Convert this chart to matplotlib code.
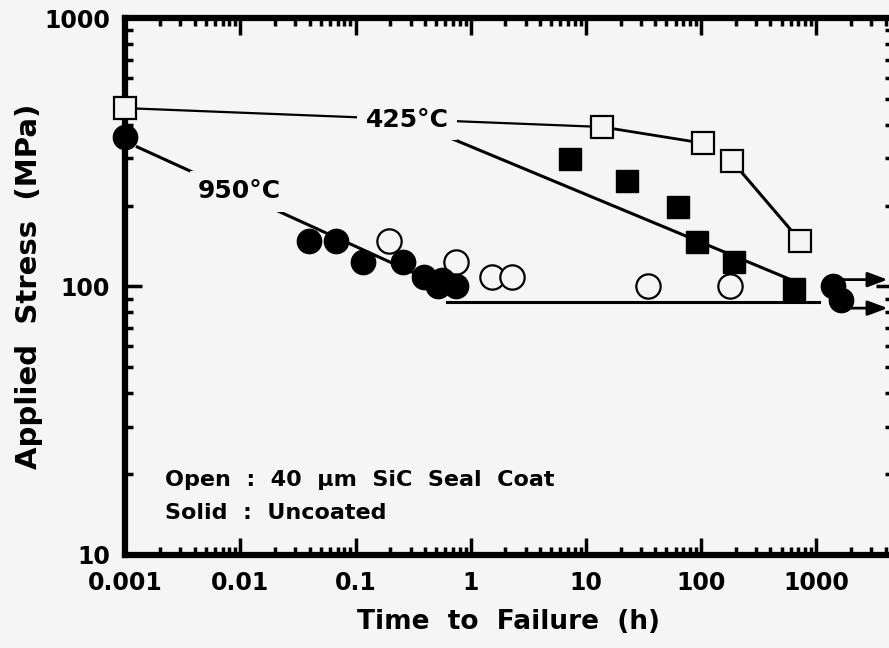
import matplotlib.pyplot as plt
import numpy as np

# 425C, 40 um SiC seal coat (open squares)
coat425_t = [0.001, 13.8, 104, 186, 724]
coat425_s = [462, 393, 342, 293, 148]

# 425C, uncoated (solid squares)
bare425_t = [7.2, 22.8, 63, 92, 194, 645]
bare425_s = [298, 247, 198, 147, 123, 98]

# 950C, uncoated (solid circles)
bare950_t = [0.001, 0.039, 0.068, 0.115, 0.26, 0.39, 0.52, 0.56, 0.74]
bare950_s = [360, 148, 148, 123, 123, 108, 100, 106, 100]

# 950C, coated (open circles)
coat950_t = [0.195, 0.74, 1.52, 2.28, 34.6, 178]
coat950_s = [148, 123, 108, 108, 100, 100]

# run-outs (solid circles with arrows)
runout_t = [1400, 1650]
runout_s = [100, 89]
runout_arrow_s = [106, 83]

# fitted trend lines
fit950_t = [0.00127, 0.55]
fit950_s = [331, 101]
fit425_t = [0.28, 600]
fit425_s = [417, 106]
flat_t = [0.62, 1060]
flat_s = [87.5, 87.5]

xticks = [0.001, 0.01, 0.1, 1, 10, 100, 1000]
xtick_labels = ['0.001', '0.01', '0.1', '1', '10', '100', '1000']
yticks = [10, 100, 1000]
ytick_labels = ['10', '100', '1000']

bg = '#f5f5f5'
plt.rcParams['font.family'] = ['DejaVu Sans']
plt.rcParams['font.weight'] = 'bold'
plt.rcParams['axes.labelweight'] = 'bold'

fig = plt.figure(figsize=(8.89, 6.48), dpi=100, facecolor=bg)
ax = fig.add_axes([0.141, 0.144, 0.863, 0.828], facecolor=bg)
ax.set_xscale('log')
ax.set_yscale('log')
ax.set_xlim(0.001, 4600)
ax.set_ylim(10, 1000)

lw = 2.2
ax.plot(coat425_t[:2], coat425_s[:2], color='k', lw=1.6, zorder=2)
ax.plot(coat425_t[1:3], coat425_s[1:3], color='k', lw=2, zorder=2)
ax.plot(coat425_t[3:], coat425_s[3:], color='k', lw=lw, zorder=2)
ax.plot(fit950_t, fit950_s, color='k', lw=lw, zorder=2)
ax.plot(fit425_t, fit425_s, color='k', lw=lw, zorder=2)
ax.plot(flat_t, flat_s, color='k', lw=lw, zorder=2)

ax.plot(coat425_t, coat425_s, 's', ms=16, mfc=bg, mec='k', mew=1.6, ls='none', zorder=4, clip_on=False)
ax.plot(bare425_t, bare425_s, 's', ms=16, mfc='k', mec='k', ls='none', zorder=4)
ax.plot(coat950_t, coat950_s, 'o', ms=17.5, mfc=bg, mec='k', mew=1.6, ls='none', zorder=3)
ax.plot(bare950_t, bare950_s, 'o', ms=17.5, mfc='k', mec='k', ls='none', zorder=4, clip_on=False)
ax.plot(runout_t, runout_s, 'o', ms=17.5, mfc='k', mec='k', ls='none', zorder=4)

for t, s in zip(runout_t, runout_arrow_s):
    ax.annotate('', xy=(4400, s), xytext=(t * 1.15, s),
                arrowprops=dict(arrowstyle='-|>,head_length=1.2,head_width=0.45',
                                color='k', lw=2), zorder=5)

tb = dict(facecolor=bg, edgecolor='none', pad=6)
ax.text(0.28, 417, '425°C', fontsize=18, ha='center', va='center', bbox=tb, zorder=3)
ax.text(0.0098, 226, '950°C', fontsize=18, ha='center', va='center', bbox=tb, zorder=3)

ax.text(0.052, 0.14, 'Open  :  40  \u03bcm  SiC  Seal  Coat', transform=ax.transAxes,
        fontsize=16, ha='left', va='center')
ax.text(0.052, 0.077, 'Solid  :  Uncoated', transform=ax.transAxes,
        fontsize=16, ha='left', va='center')

for sp in ax.spines.values():
    sp.set_linewidth(4.5)
ax.tick_params(which='both', direction='in', top=True, right=True, width=2.5)
ax.tick_params(which='major', length=12, labelsize=17)
ax.tick_params(axis='x', which='major', pad=12)
ax.tick_params(axis='y', which='major', pad=11)
ax.tick_params(which='minor', length=6)
ax.set_xticks(xticks)
ax.set_xticklabels(xtick_labels)
ax.set_yticks(yticks)
ax.set_yticklabels(ytick_labels)

ax.set_xlabel('Time  to  Failure  (h)', fontsize=19, labelpad=10)
ax.set_ylabel('Applied  Stress  (MPa)', fontsize=21, labelpad=1)

fig.savefig('out.png', dpi=100, facecolor=bg)
